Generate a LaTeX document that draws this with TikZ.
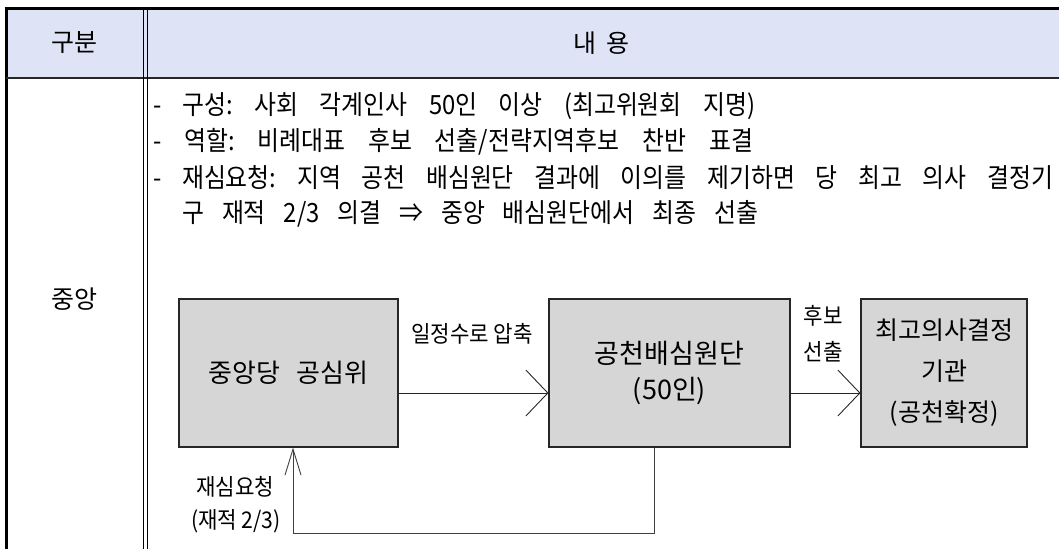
\documentclass[tikz,border=0pt]{standalone}
\usepackage{fontspec}
\setmainfont{Noto Sans CJK KR}
\newfontfamily\krtext[FakeStretch=0.9]{Noto Sans CJK KR}
\newfontfamily\krlbl[FakeStretch=0.92]{Noto Sans CJK KR}
\usetikzlibrary{arrows.meta}
\definecolor{hdrfill}{RGB}{222,227,246}
\definecolor{boxgray}{RGB}{214,214,214}
\newcommand{\fitline}[2]{\makebox[#1][s]{#2}}
\frenchspacing
\begin{document}
\begin{tikzpicture}[x=1pt,y=-1pt,
  hdtext/.style={inner sep=0pt, font=\fontsize{25}{25}\selectfont},
  bodyline/.style={inner sep=0pt, anchor=west, font=\krtext\fontsize{26.5}{26.5}\selectfont},
  gbox/.style={draw=black!85, line width=1.1pt, fill=boxgray, inner sep=0pt, align=center, font=\fontsize{27}{36}\selectfont},
  lbl/.style={inner sep=0pt, font=\krlbl\fontsize{23}{23}\selectfont},
  arr/.style={draw=black!85, line width=0.9pt, -{Straight Barb[length=22pt,width=46pt]}},
  fb/.style={draw=black!75, line width=0.9pt, -{Straight Barb[length=26pt,width=16pt]}}]
\useasboundingbox (0,0) rectangle (1059,549);
% table
\fill[hdrfill] (6,9) rectangle (1059,78);
\draw[line width=3pt] (4.5,8.5) -- (1059,8.5);
\draw[line width=3pt] (6,7) -- (6,549);
\draw[line width=2pt, black!85] (6,78) -- (1059,78);
\draw[line width=0.9pt] (143.5,9) -- (143.5,549);
\draw[line width=0.9pt] (147,9) -- (147,549);
% header
\node[hdtext] (h1) at (74,43) {구분};
\node[hdtext] (h2) at (601,43) {내\hspace{10pt}용};
\node[hdtext] (c1) at (74,299) {중앙};
% body lines
\node[bodyline] (t1) at (153,106) {\fitline{602pt}{- 구성: 사회 각계인사 50인 이상 (최고위원회 지명)}};
\node[bodyline] (t2) at (153,142) {\fitline{600pt}{- 역할: 비례대표 후보 선출/전략지역후보 찬반 표결}};
\node[bodyline] (t3) at (153,178) {\fitline{900pt}{- 재심요청: 지역 공천 배심원단 결과에 이의를 제기하면 당 최고 의사 결정기}};
\node[bodyline] (t4) at (182,214) {\fitline{576pt}{구 재적 2/3 의결 ⇒ 중앙 배심원단에서 최종 선출}};
% boxes
\node[gbox, minimum width=219pt, minimum height=148pt, font=\fontsize{26}{26}\selectfont] (b1) at (288.5,373) {\fitline{160pt}{중앙당 공심위}};
\node[gbox, minimum width=241pt, minimum height=148pt] (b2) at (669.5,373) {공천배심원단\\(50인)};
\node[gbox, minimum width=166pt, minimum height=148pt, font=\fontsize{25}{41}\selectfont] (b3) at (944,373) {최고의사결정\\기관\\(공천확정)};
% connectors
\draw[arr] ([yshift=-20pt]b1.east) -- ([yshift=-20pt]b2.west);
\draw[arr] ([yshift=-20pt]b2.east) -- ([yshift=-20pt]b3.west);
\draw[fb] ([xshift=-15.5pt]b2.south) -- ++(0,86) -| ([xshift=4.5pt]b1.south);
% labels
\node[lbl] (l1) at (472,334) {일정수로 압축};
\node[lbl] (l2) at (823,316) {후보};
\node[lbl] (l3) at (823,352) {선출};
\node[lbl] (l4) at (235,487) {재심요청};
\node[lbl] (l5) at (236,521) {(재적 2/3)};
\end{tikzpicture}
\end{document}
